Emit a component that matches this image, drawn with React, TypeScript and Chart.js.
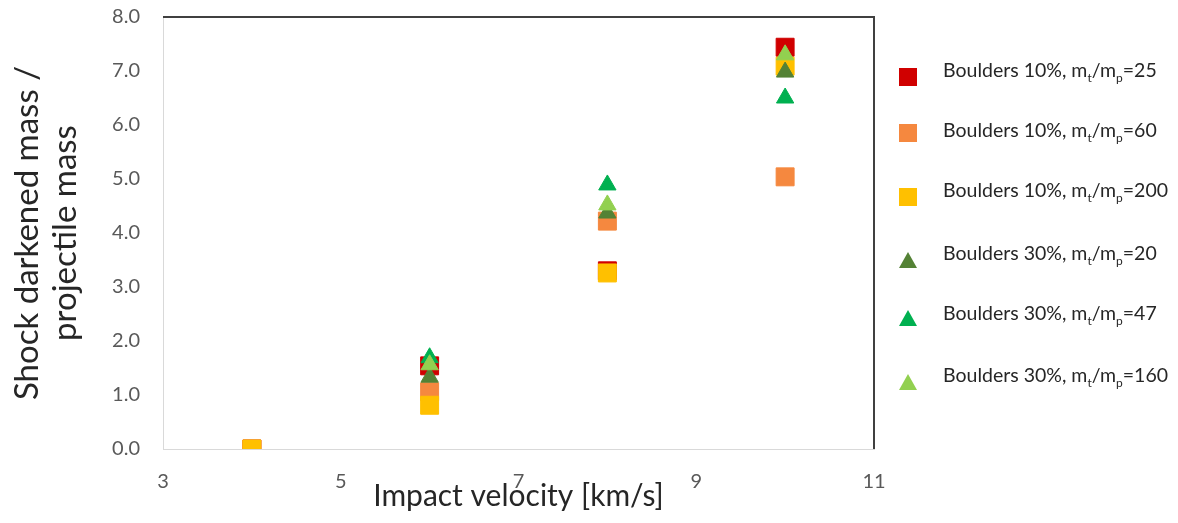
import React, { useEffect, useRef } from "react";
import { Chart, registerables } from "chart.js";

Chart.register(...registerables);

const FONT = "Lato, 'Open Sans', sans-serif";

const seriesNames = ["Boulders 10%", "Boulders 10%", "Boulders 10%", "Boulders 30%", "Boulders 30%", "Boulders 30%"];
const massRatios = ["25", "60", "200", "20", "47", "160"];
const seriesColors = ["#D00000", "#F5883F", "#FFC000", "#548235", "#00B050", "#92D050"];
const seriesShapes = ["rect", "rect", "rect", "triangle", "triangle", "triangle"];

const squareVelocities = [4, 6, 8, 10];
const triangleVelocities = [6, 8, 10];

const b10_25 = [0, 1.54, 3.3, 7.44];
const b10_60 = [0, 1.06, 4.22, 5.04];
const b10_200 = [0, 0.81, 3.26, 7.09];
const b30_20 = [1.33, 4.37, 6.98];
const b30_47 = [1.69, 4.89, 6.5];
const b30_160 = [1.56, 4.52, 7.3];

const seriesValues = [b10_25, b10_60, b10_200, b30_20, b30_47, b30_160];

const xTicks = [3, 5, 7, 9, 11];

const frame = {
  id: "frame",
  beforeDatasetsDraw(chart: any) {
    const { ctx, chartArea } = chart;
    const { left, top, right, bottom } = chartArea;
    ctx.save();
    ctx.strokeStyle = "#404040";
    ctx.lineWidth = 2;
    ctx.beginPath();
    ctx.moveTo(left, top);
    ctx.lineTo(right, top);
    ctx.lineTo(right, bottom);
    ctx.stroke();
    ctx.restore();
  },
};

function LegendMarker({ color, shape }: { color: string; shape: string }) {
  if (shape === "rect") {
    return <div style={{ width: 18, height: 18, background: color }} />;
  }
  return (
    <svg width={18} height={16} viewBox="0 0 18 16">
      <polygon points="9,0 18,16 0,16" fill={color} />
    </svg>
  );
}

export default function App() {
  const ref = useRef<HTMLCanvasElement | null>(null);

  useEffect(() => {
    if (!ref.current) return;
    const datasets = seriesValues.map((vals, i) => {
      const xs = seriesShapes[i] === "rect" ? squareVelocities : triangleVelocities;
      return {
        label: `${seriesNames[i]}, mt/mp=${massRatios[i]}`,
        data: vals.map((v, j) => ({ x: xs[j], y: v })),
        backgroundColor: seriesColors[i],
        borderColor: seriesColors[i],
        borderWidth: 1,
        pointStyle: seriesShapes[i],
        pointRadius: seriesShapes[i] === "rect" ? 12.7 : 10,
        order: 6 - i,
      };
    });
    const chart = new Chart(ref.current, {
      type: "scatter",
      data: { datasets } as any,
      options: {
        animation: false,
        responsive: false,
        maintainAspectRatio: false,
        layout: { padding: { left: 0, top: 17, right: 304, bottom: 0 } },
        plugins: { legend: { display: false }, tooltip: { enabled: false } },
        scales: {
          x: {
            type: "linear",
            min: 3,
            max: 11,
            afterBuildTicks: (s: any) => {
              s.ticks = xTicks.map((v) => ({ value: v }));
            },
            afterFit: (s: any) => {
              s.height = 74;
              s.paddingLeft = 0;
              s.paddingRight = 0;
            },
            grid: { display: false, drawTicks: false },
            border: { display: true, color: "#D9D9D9", width: 1 },
            ticks: { color: "#595959", font: { family: FONT, size: 20 }, padding: 21 },
            title: {
              display: true,
              text: "Impact velocity [km/s]",
              color: "#262626",
              font: { family: FONT, size: 30, lineHeight: 1.2 },
              padding: { top: 0, bottom: 9 },
            },
          },
          y: {
            type: "linear",
            min: 0,
            max: 8,
            ticks: {
              stepSize: 1,
              color: "#595959",
              font: { family: FONT, size: 20 },
              padding: 23,
              callback: (v: any) => Number(v).toFixed(1),
            },
            afterFit: (s: any) => {
              s.width = 163;
              s.paddingTop = 0;
              s.paddingBottom = 0;
            },
            grid: { display: false, drawTicks: false },
            border: { display: true, color: "#D9D9D9", width: 1 },
            title: {
              display: true,
              text: ["Shock darkened mass /", "projectile mass"],
              color: "#262626",
              font: { family: FONT, size: 33, lineHeight: 1.15 },
              padding: { top: 8, bottom: 0 },
            },
          },
        },
      },
      plugins: [frame],
    } as any);
    return () => chart.destroy();
  }, []);

  const markerRows = [77, 133, 197, 260, 318, 382];
  const textRows = [70, 130, 190, 253, 313, 375];

  return (
    <div style={{ position: "absolute", left: 0, top: 0, width: 1178, height: 523, background: "#fff" }}>
      <canvas ref={ref} width={1178} height={523} style={{ position: "absolute", left: 0, top: 0 }} />
      {markerRows.map((y, i) => (
        <React.Fragment key={i}>
          <div
            style={{
              position: "absolute",
              left: 899,
              top: y - 9,
              width: 18,
              height: 18,
              display: "flex",
              alignItems: "center",
              justifyContent: "center",
            }}
          >
            <LegendMarker color={seriesColors[i]} shape={seriesShapes[i]} />
          </div>
          <div
            style={{
              position: "absolute",
              left: 943,
              top: textRows[i] - 11,
              fontFamily: FONT,
              fontSize: 19.5,
              color: "#262626",
              whiteSpace: "nowrap",
              lineHeight: "22px",
            }}
          >
            {seriesNames[i]}, m<sub style={{ fontSize: 12, lineHeight: 0 }}>t</sub>/m
            <sub style={{ fontSize: 12, lineHeight: 0 }}>p</sub>={massRatios[i]}
          </div>
        </React.Fragment>
      ))}
    </div>
  );
}
